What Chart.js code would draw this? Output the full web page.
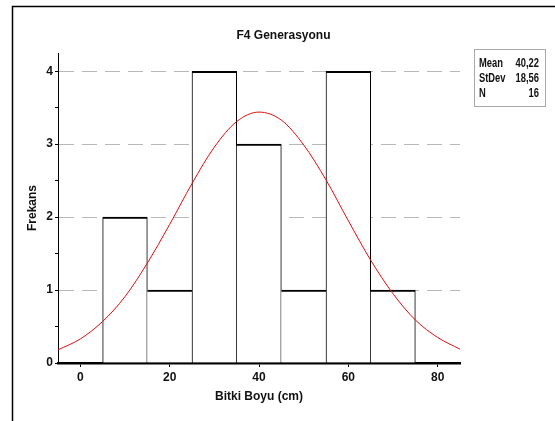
<!DOCTYPE html>
<html>
<head>
<meta charset="utf-8">
<script src="https://cdn.jsdelivr.net/npm/chart.js@4.4.1/dist/chart.umd.min.js"></script>
<style>
  body { margin: 0; background: #fff; }
  canvas { display: block; }
</style>
</head>
<body>
<canvas id="myChart" width="555" height="421"></canvas>
<script>
// histogram bins (centre of each 10 cm class) and counts
let binCenters = [10, 20, 30, 40, 50, 60, 70];
let counts = [2, 1, 4, 3, 1, 4, 1];

// fitted normal curve
let curveX = [-5, 0, 5, 10, 15, 20, 25, 30, 35, 40, 45, 50, 55, 60, 65, 70, 75, 80, 85];
let curveY = [0.18, 0.33, 0.57, 0.91, 1.37, 1.90, 2.46, 2.96, 3.31, 3.44, 3.33, 2.99, 2.51, 1.95, 1.41, 0.95, 0.59, 0.35, 0.19];

let xTicks = [0, 20, 40, 60, 80];
let yTicks = [0, 1, 2, 3, 4];

let statLabels = ['Mean', 'StDev', 'N'];
let statValues = ['40,22', '18,56', '16'];

let ctx = document.getElementById('myChart').getContext('2d');

// outer frame + stats box
let extras = {
  id: 'extras',
  beforeDraw(chart) {
    let c = chart.ctx;
    c.save();
    c.fillStyle = '#fff';
    c.fillRect(0, 0, chart.width, chart.height);
    c.strokeStyle = '#000';
    c.lineWidth = 1.5;
    c.beginPath();
    c.moveTo(12.5, chart.height);
    c.lineTo(12.5, 6.5);
    c.lineTo(chart.width, 6.5);
    c.stroke();
    c.restore();
  },
  afterDraw(chart) {
    let c = chart.ctx;
    let left = chart.chartArea.right + 14;
    let top = chart.chartArea.top - 4;
    let sx = 0.78;  // narrow face like the original
    c.save();
    c.strokeStyle = '#a8a8a8';
    c.lineWidth = 1;
    c.strokeRect(left + 0.5, top + 0.5, 71, 57);
    c.fillStyle = '#111';
    c.font = 'bold 12px "Liberation Sans", Arial, sans-serif';
    c.textBaseline = 'middle';
    statLabels.forEach((lab, i) => {
      let y = top + 14.5 + i * 15;
      c.save();
      c.translate(left, y);
      c.scale(sx, 1);
      c.textAlign = 'left';
      c.fillText(lab, 5 / sx, 0);
      c.textAlign = 'right';
      c.fillText(statValues[i], 65 / sx, 0);
      c.restore();
    });
    c.restore();
  }
};

let font = { family: '"Liberation Sans", Arial, sans-serif', size: 12, weight: 'bold' };

let myChart = new Chart(ctx, {
  type: 'bar',
  data: {
    datasets: [{
      type: 'line',
      data: curveX.map((x, i) => ({ x: x, y: curveY[i] })),
      borderColor: '#dd1010',
      borderWidth: 1,
      pointRadius: 0,
      cubicInterpolationMode: 'monotone',
      order: 0
    }, {
      type: 'bar',
      data: binCenters.map((x, i) => ({ x: x, y: counts[i] })),
      backgroundColor: '#fff',
      borderColor: '#000',
      borderSkipped: false,
      borderWidth: (c) => {
        let i = c.dataIndex;
        return {
          top: 2,
          bottom: 0,
          left: (i === 0 || counts[i - 1] <= counts[i]) ? 1 : 0,
          right: (i === counts.length - 1 || counts[i + 1] < counts[i]) ? 1 : 0
        };
      },
      barPercentage: 1,
      categoryPercentage: 1,
      order: 1
    }]
  },
  options: {
    responsive: false,
    animation: false,
    layout: { padding: { left: 12, right: 0, top: 0, bottom: 0 } },
    plugins: {
      legend: { display: false },
      tooltip: { enabled: false },
      title: {
        display: true,
        text: 'F4 Generasyonu',
        color: '#111',
        font: font,
        padding: { top: 28.5, bottom: 10.1 }
      }
    },
    scales: {
      x: {
        type: 'linear',
        min: -5,
        max: 85,
        offset: false,
        afterFit: (s) => { s.height = 58; },
        afterBuildTicks: (s) => { s.ticks = xTicks.map(v => ({ value: v })); },
        ticks: { color: '#111', font: font, padding: 3 },
        grid: { offset: false, drawOnChartArea: false, tickLength: 4, tickColor: '#000' },
        border: { color: '#000', width: 2.5 },
        title: {
          display: true,
          text: 'Bitki Boyu (cm)',
          color: '#111',
          font: font,
          padding: { top: 0, bottom: 17 }
        }
      },
      y: {
        min: 0,
        max: 4.25,
        afterFit: (s) => { s.width = 46; },
        ticks: {
          stepSize: 0.5,
          includeBounds: false,
          color: '#111',
          font: font,
          padding: 2,
          callback: (v) => yTicks.includes(v) ? v : ''
        },
        grid: {
          color: (c) => (c.tick && yTicks.includes(c.tick.value) && c.tick.value > 0) ? '#b8b8b8' : 'transparent',
          tickColor: '#000',
          tickLength: 3
        },
        border: { color: '#000', width: 1, dash: [15, 8] },
        title: {
          display: true,
          text: 'Frekans',
          color: '#111',
          font: font,
          padding: { top: 13, bottom: 0 }
        }
      },
      y2: {
        position: 'right',
        display: true,
        afterFit: (s) => { s.width = 95; },
        ticks: { display: false },
        grid: { display: false },
        border: { display: false }
      }
    }
  },
  plugins: [extras]
});
</script>
</body>
</html>
